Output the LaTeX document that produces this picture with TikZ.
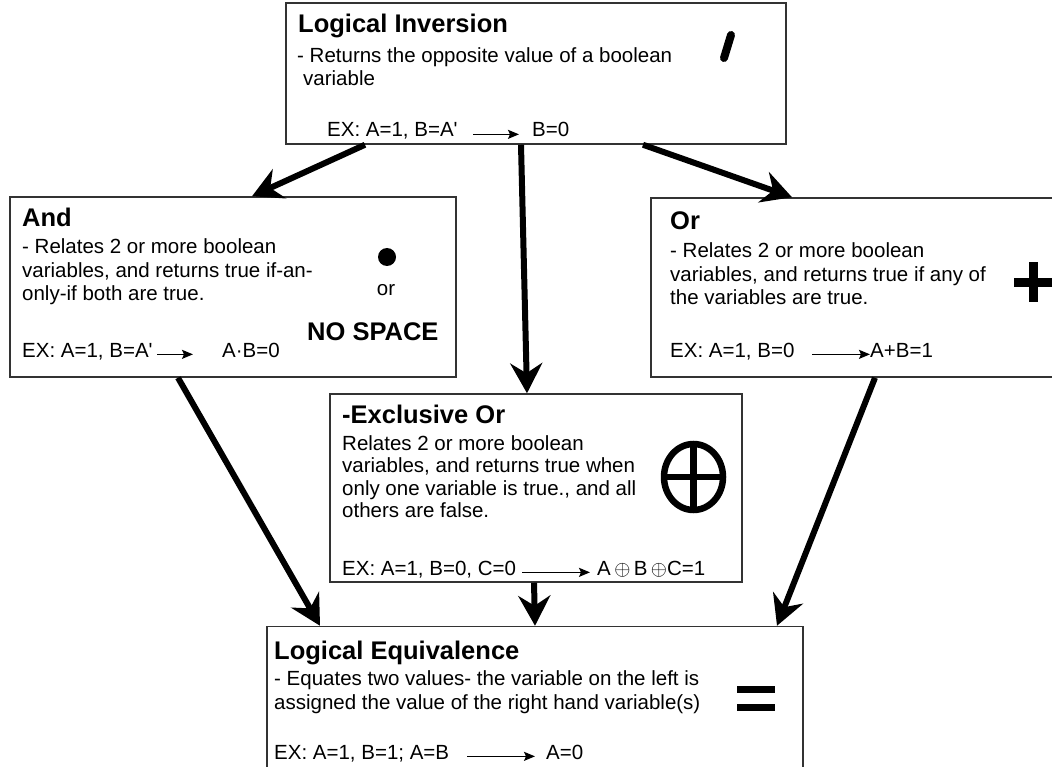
\documentclass[tikz,border=0pt]{standalone}
\usepackage{fontspec}
\setmainfont{Liberation Sans}
\usetikzlibrary{arrows.meta, positioning}

\begin{document}
\begin{tikzpicture}[x=1pt, y=-1pt,
    box/.style={draw=black!80, line width=1.5pt, fill=white, inner sep=0pt},
    boxtitle/.style={anchor=base west, inner sep=0pt, font=\fontsize{25.5}{28}\selectfont\bfseries},
    txt/.style={anchor=base west, inner sep=0pt, align=left, font=\fontsize{20.5}{23.5}\selectfont},
    flow/.style={line width=6pt, -{Stealth[length=30pt, width=32pt, inset=10pt]}},
    exarrow/.style={line width=1.5pt, -{Stealth[length=11pt, width=9pt, inset=2pt]}}]

      \useasboundingbox (0,0) rectangle (1052,767);

      % Boxes
      \node[box, minimum width=500pt, minimum height=141pt] (inv) at (536,73.5) {};
      \node[box, minimum width=446pt, minimum height=180pt] (and) at (233,287) {};
      \node[box, minimum width=413pt, minimum height=179pt] (or) at (857.5,287.5) {};
      \node[box, minimum width=412pt, minimum height=188pt] (xor) at (536,488) {};
      \node[box, minimum width=536pt, minimum height=171pt] (eq) at (535,712) {};

      % Flow arrows
      \draw[flow] ([xshift=-171pt]inv.south) -- ([xshift=19pt]and.north);
      \draw[flow] ([xshift=-15pt]inv.south) -- ([xshift=-9pt]xor.north);
      \draw[flow] ([xshift=107pt]inv.south) -- ([xshift=-65.5pt]or.north);
      \draw[flow] ([xshift=-55pt]and.south) -- ([xshift=-215pt]eq.north);
      \draw[flow] ([xshift=-2pt]xor.south) -- (eq.north);
      \draw[flow] ([xshift=17.5pt]or.south) -- ([xshift=242pt]eq.north);

      % Logical Inversion (multi-line text sits on its last baseline)
      \node[boxtitle] (invtitle) at (298,33) {Logical Inversion};
      \node[txt] (invtext) at (297,86) {- Returns the opposite value of a boolean\\\hspace*{6pt}variable};
      \draw[line width=8pt, line cap=round] (731,35) -- (724,58);
      \node[txt] (invex) at (327,137) {EX: A=1, B=A\textquotesingle};
      \node[txt] (invres) at (532,137) {B=0};
      \coordinate (invarr) at (473,0);
      \draw[exarrow, shorten >=13pt] (invarr |- invres.mid west) -- (invres.mid west);

      % And
      \node[boxtitle] (andtitle) at (22,227) {And};
      \node[txt] (andtext) at (22,301) {- Relates 2 or more boolean\\variables, and returns true if-an-\\only-if both are true.};
      \fill (387,257) circle (9pt);
      \node[txt, anchor=base] (andor) at (386,296) {or};
      \node[boxtitle] (andnospace) at (307,340) {NO SPACE};
      \node[txt] (andex) at (22,357) {EX: A=1, B=A\textquotesingle};
      \node[txt] (andres) at (222,357) {A·B=0};
      \coordinate (andarr) at (157,0);
      \draw[exarrow, shorten >=29pt] (andarr |- andres.mid west) -- (andres.mid west);

      % Or
      \node[boxtitle] (ortitle) at (670,230) {Or};
      \node[txt] (ortext) at (670,305) {- Relates 2 or more boolean\\variables, and returns true if any of\\the variables are true.};
      \fill (1014,278) rectangle (1052,287);
      \fill (1028.5,262) rectangle (1037.5,302);
      \node[txt] (orex) at (670,357) {EX: A=1, B=0};
      \node[txt] (orres) at (870,357) {A+B=1};
      \coordinate (orarr) at (812,0);
      \draw[exarrow] (orarr |- orres.mid west) -- (orres.mid west);

      % Exclusive Or
      \node[boxtitle] (xortitle) at (342,423) {-Exclusive Or};
      \node[txt, font=\fontsize{20.5}{22.5}\selectfont] (xortext) at (342,517.5) {Relates 2 or more boolean\\variables, and returns true when\\only one variable is true., and all\\others are false.};
      \draw[line width=6.5pt] (693.5,477) ellipse (29.5pt and 33pt);
      \draw[line width=6.5pt] (664,477) -- (723,477) (693.5,444) -- (693.5,510);
      \node[txt] (xorex) at (342,575) {EX: A=1, B=0, C=0};
      \node[txt] (xorres) at (597,575) {A\,$\oplus$\,B\,$\oplus$C=1};
      \coordinate (xorarr) at (522,0);
      \draw[exarrow, shorten >=7pt] (xorarr |- xorres.mid west) -- (xorres.mid west);

      % Logical Equivalence
      \node[boxtitle] (eqtitle) at (274,659) {Logical Equivalence};
      \node[txt] (eqtext) at (274,709) {- Equates two values- the variable on the left is\\assigned the value of the right hand variable(s)};
      \fill (737,686) rectangle (775,693);
      \fill (737,704) rectangle (775,711);
      \node[txt] (eqex) at (274,759) {EX: A=1, B=1; A=B};
      \node[txt] (eqres) at (546,759) {A=0};
      \coordinate (eqarr) at (467,0);
      \draw[exarrow, shorten >=11pt] (eqarr |- eqres.mid west) -- (eqres.mid west);

    \end{tikzpicture}
\end{document}
